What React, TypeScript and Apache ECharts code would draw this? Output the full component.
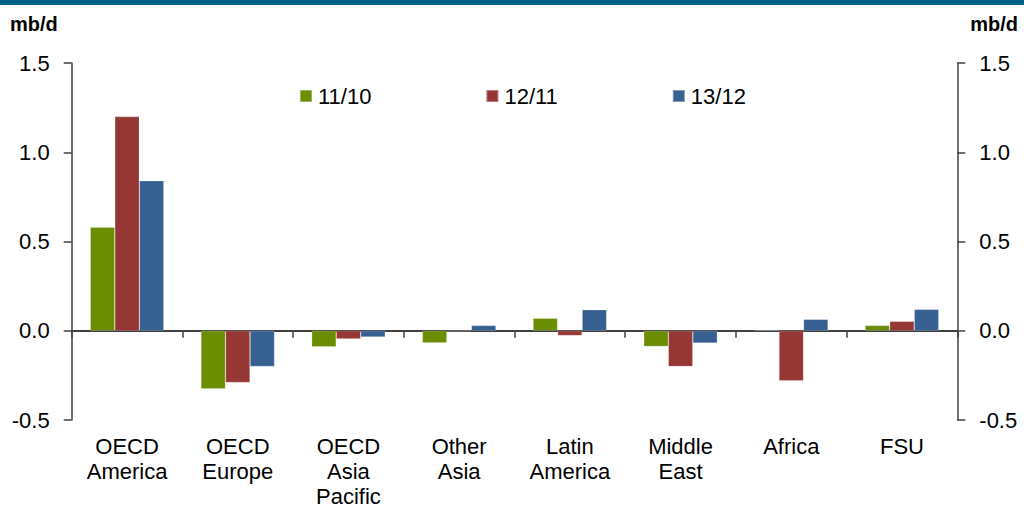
import React, { useEffect, useRef } from "react";
import * as echarts from "echarts";

const categories = [
  "OECD\nAmerica",
  "OECD\nEurope",
  "OECD\nAsia\nPacific",
  "Other\nAsia",
  "Latin\nAmerica",
  "Middle\nEast",
  "Africa",
  "FSU",
];
const seriesNames = ["11/10", "12/11", "13/12"];
const growth1110 = [0.58, -0.325, -0.09, -0.068, 0.07, -0.088, 0.003, 0.03];
const growth1211 = [1.2, -0.29, -0.046, -0.003, -0.027, -0.2, -0.28, 0.053];
const growth1312 = [0.84, -0.2, -0.035, 0.03, 0.118, -0.069, 0.064, 0.12];
const colors = ["#6a8e00", "#953735", "#366092"];
const FONT = "'Liberation Sans', Arial, Helvetica, sans-serif";

export default function App() {
  const ref = useRef<HTMLDivElement>(null);
  useEffect(() => {
    if (!ref.current) return;
    const chart = echarts.init(ref.current, undefined, { renderer: "svg" });
    const axisColor = "#404040";
    const yAxisBase = (position: "left" | "right") => ({
      type: "value" as const,
      position,
      min: -0.5,
      max: 1.5,
      interval: 0.5,
      axisLine: { show: true, lineStyle: { color: axisColor, width: 1.5 } },
      axisTick: { show: true, inside: false, length: 8, lineStyle: { color: axisColor, width: 1.5 } },
      splitLine: { show: false },
      axisLabel: {
        color: "#000",
        fontSize: 22,
        fontFamily: FONT,
        margin: 22,
        formatter: (v: number) => v.toFixed(1),
      },
    });
    const data = [growth1110, growth1211, growth1312];
    chart.setOption({
      animation: false,
      backgroundColor: "#fff",
      grid: {
        left: 71.7,
        right: 66.7,
        top: 63,
        bottom: 89,
        containLabel: false,
        outerBoundsMode: "none",
      },
      legend: {
        data: seriesNames,
        left: 299,
        top: 85,
        padding: 0,
        icon: "rect",
        itemWidth: 12,
        itemHeight: 12,
        itemGap: 114,
        textStyle: { color: "#000", fontSize: 22, fontFamily: FONT, lineHeight: 22, padding: [0, 0, 0, 1] },
      },
      xAxis: [
        {
          type: "category",
          data: categories,
          position: "bottom",
          axisLine: { show: false },
          axisTick: { show: false },
          axisLabel: {
            color: "#000",
            fontSize: 22,
            fontFamily: FONT,
            lineHeight: 25,
            margin: 14,
            interval: 0,
          },
        },
        {
          type: "category",
          data: categories,
          position: "bottom",
          axisLine: { show: true, onZero: true, onZeroAxisIndex: 0, lineStyle: { color: axisColor, width: 2 } },
          axisTick: { show: true, inside: false, length: 7, lineStyle: { color: axisColor, width: 1.5 } },
          axisLabel: { show: false },
        },
      ],
      yAxis: [yAxisBase("left"), yAxisBase("right")],
      series: seriesNames.map((name, i) => ({
        name,
        type: "bar",
        xAxisIndex: 0,
        yAxisIndex: 0,
        data: data[i],
        barGap: "0%",
        barCategoryGap: "33.5%",
        itemStyle: { color: colors[i], borderColor: "rgba(255,255,255,0.35)", borderWidth: 0.6 },
      })),
      graphic: [
        { type: "rect", left: 0, top: 0, shape: { width: 1024, height: 5 }, style: { fill: "#00628b" } },
        {
          type: "text",
          left: 10,
          top: 14,
          style: { text: "mb/d", font: `bold 20px ${FONT}`, fill: "#000" },
        },
        {
          type: "text",
          right: 6,
          top: 14,
          style: { text: "mb/d", font: `bold 20px ${FONT}`, fill: "#000" },
        },
      ],
    });
    return () => chart.dispose();
  }, []);
  return (
    <div
      ref={ref}
      style={{ position: "absolute", left: 0, top: 0, width: 1024, height: 509 }}
    />
  );
}
